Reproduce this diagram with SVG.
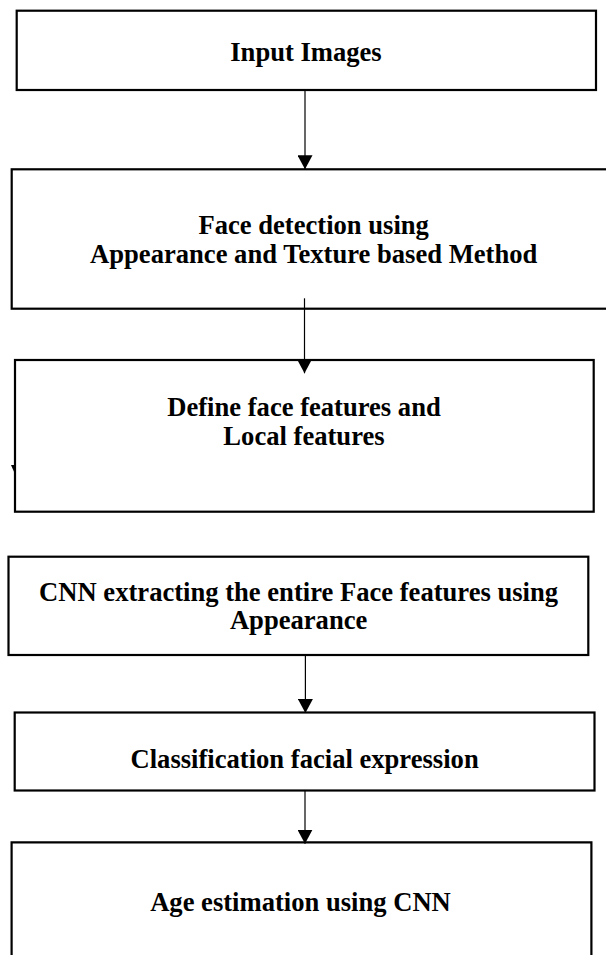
<svg xmlns="http://www.w3.org/2000/svg" width="606" height="955" viewBox="0 0 606 955">
<style>
.box{fill:#fff;stroke:#000;stroke-width:2.2}
.lbl{font-family:"Liberation Serif","Times New Roman",serif;font-weight:bold;font-size:26.6px;fill:#000;text-anchor:middle}
.conn{stroke:#000;stroke-width:1.2;fill:none}
</style>
<defs>
<marker id="ah" markerUnits="userSpaceOnUse" markerWidth="15" markerHeight="15" refX="14" refY="7.5" orient="auto" viewBox="0 0 15 15">
<path d="M0,0 L14,7.5 L0,15 z" fill="#000"/>
</marker>
</defs>
<rect width="606" height="955" fill="#fff"/>
<g id="n1">
<rect class="box" x="16.7" y="10.7" width="579.3" height="79.3"/>
<text class="lbl" x="306" y="61">Input Images</text>
</g>
<g id="n2">
<rect class="box" x="11.7" y="169.3" width="604" height="139.4"/>
<text class="lbl" x="313.7" y="234">Face detection using</text>
<text class="lbl" x="313.7" y="263">Appearance and Texture based Method</text>
</g>
<g id="n3">
<rect class="box" x="15" y="360" width="578.7" height="151.7"/>
<text class="lbl" x="304" y="416">Define face features and</text>
<text class="lbl" x="304" y="445">Local features</text>
</g>
<g id="n4">
<rect class="box" x="8.5" y="556.7" width="579.8" height="98.3"/>
<text class="lbl" x="298.6" y="600.5">CNN extracting the entire Face features using</text>
<text class="lbl" x="298.6" y="629">Appearance</text>
</g>
<g id="n5">
<rect class="box" x="14.7" y="712.5" width="579.8" height="78"/>
<text class="lbl" x="304.6" y="768">Classification facial expression</text>
</g>
<g id="n6">
<path class="box" d="M11.6,960 V842.3 H591.4 V960"/>
<text class="lbl" x="300.5" y="911">Age estimation using CNN</text>
</g>
<g id="connectors">
<line class="conn" x1="305" y1="90" x2="305" y2="169.3" marker-end="url(#ah)"/>
<line class="conn" x1="304.5" y1="298.3" x2="304.5" y2="373.3" marker-end="url(#ah)"/>
<line class="conn" x1="305.4" y1="655" x2="305.4" y2="713" marker-end="url(#ah)"/>
<line class="conn" x1="305" y1="790.5" x2="305" y2="843.7" marker-end="url(#ah)"/>
<polygon points="11,465 15,465 15,474" fill="#000"/>
</g>
</svg>
